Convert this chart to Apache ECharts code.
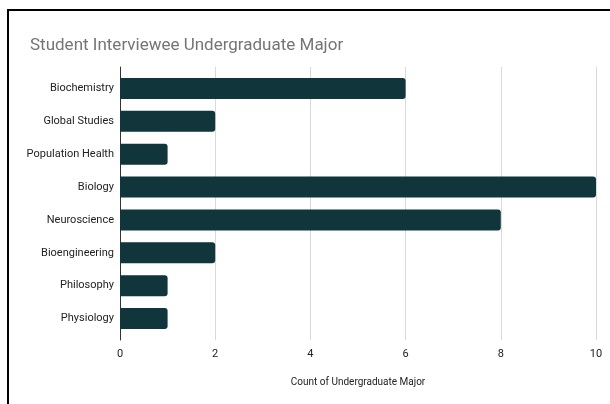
<!DOCTYPE html>
<html>
<head>
<meta charset="utf-8">
<script src="https://cdn.jsdelivr.net/npm/echarts@6/dist/echarts.min.js"></script>
<style>
  html, body { margin: 0; padding: 0; background: #fff; }
  #chart { width: 610px; height: 404px; }
</style>
</head>
<body>
<div id="chart"></div>
<script>
// 数据
const majors = ['Biochemistry', 'Global Studies', 'Population Health', 'Biology',
  'Neuroscience', 'Bioengineering', 'Philosophy', 'Physiology'];
const counts = [6, 2, 1, 10, 8, 2, 1, 1];
const xTicks = [0, 2, 4, 6, 8, 10];

const mChart = echarts.init(document.getElementById('chart'));
const option = {
  animation: false,
  textStyle: { fontFamily: 'Roboto, Arial, sans-serif' },
  title: {
    text: 'Student Interviewee Undergraduate Major',
    left: 25,
    top: 32,
    textStyle: { color: '#757575', fontSize: 17, fontWeight: 'normal' }
  },
  // 外框线
  graphic: [{
    type: 'polyline',
    shape: { points: [[8, 404], [8, 10], [610, 10]] },
    style: { stroke: '#000', lineWidth: 2, fill: null }
  }],
  // grid 0: 柱子; grid 1: 稍高一点的网格线
  grid: [
    { left: 120, right: 14, top: 72, bottom: 69 },
    { left: 120, right: 14, top: 67, bottom: 64 }
  ],
  xAxis: [{
    type: 'value',
    gridIndex: 0,
    min: xTicks[0],
    max: xTicks[xTicks.length - 1],
    interval: 2,
    name: 'Count of Undergraduate Major',
    nameLocation: 'middle',
    nameGap: 42,
    nameTextStyle: { color: '#222', fontSize: 10 },
    axisLine: { show: false },
    axisTick: { show: false },
    axisLabel: { color: '#222', fontSize: 11, margin: 14 },
    splitLine: { show: false }
  }, {
    type: 'value',
    gridIndex: 1,
    min: xTicks[0],
    max: xTicks[xTicks.length - 1],
    interval: 2,
    axisLine: { show: false },
    axisTick: { show: false },
    axisLabel: { show: false },
    splitLine: { lineStyle: { color: '#d9d9d9', width: 1 } }
  }],
  yAxis: [{
    type: 'category',
    gridIndex: 0,
    inverse: true,
    data: majors,
    axisLine: { show: false },
    axisTick: { show: false },
    axisLabel: { color: '#222', fontSize: 11, margin: 6 }
  }, {
    type: 'category',
    gridIndex: 1,
    data: [''],
    axisLine: { lineStyle: { color: '#333', width: 1 } },
    axisTick: { show: false },
    axisLabel: { show: false }
  }],
  series: [{
    type: 'bar',
    xAxisIndex: 0,
    yAxisIndex: 0,
    data: counts,
    barWidth: 21,
    z: 3,
    itemStyle: { color: '#10353b', borderRadius: [0, 3, 3, 0] }
  }]
};
mChart.setOption(option);
</script>
</body>
</html>
